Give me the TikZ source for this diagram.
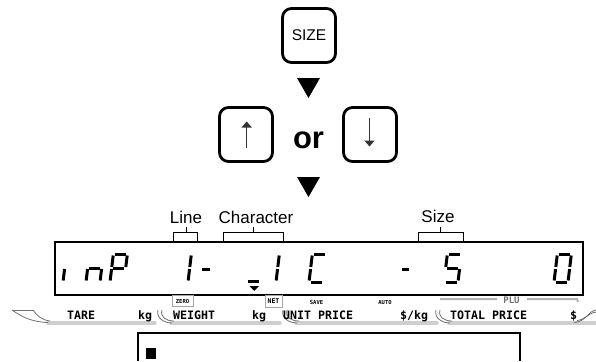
\documentclass[tikz,border=0pt]{standalone}
\usepackage{fontspec}
\setmainfont{Liberation Sans}
\newfontfamily\monofont{DejaVu Sans Mono}
\usetikzlibrary{arrows.meta}
\definecolor{lgray}{HTML}{CFCFCF}
\definecolor{dgray}{HTML}{707070}
\newcommand{\segA}{\draw[seg] (1.5,-28)--(12.5,-28);}
\newcommand{\segB}{\draw[seg] (14,-26.5)--(14,-15);}
\newcommand{\segC}{\draw[seg] (14,-13)--(14,-1.5);}
\newcommand{\segD}{\draw[seg] (1.5,0)--(12.5,0);}
\newcommand{\segE}{\draw[seg] (0,-13)--(0,-1.5);}
\newcommand{\segF}{\draw[seg] (0,-26.5)--(0,-15);}
\newcommand{\segG}{\draw[seg] (1.5,-14)--(12.5,-14);}
\newcommand{\divcurve}[1]{%
  \draw[curv] (#1,310) .. controls (#1-2,318) and (#1+6,323) .. (#1+14,323);
  \draw[curv] (#1+4,310) .. controls (#1+2,317) and (#1+8,321) .. (#1+16,321);}
\begin{document}
\begin{tikzpicture}[x=1pt,y=-1pt,
  key/.style={draw, line width=2.8pt, rounded corners=9pt, minimum width=53pt, minimum height=54pt, inner sep=0pt},
  seg/.style={line width=3pt},
  lbl/.style={font=\fontsize{17}{20}\selectfont, anchor=base, inner sep=0pt},
  brk/.style={line width=1pt},
  strip/.style={font=\monofont\bfseries\fontsize{11.6}{13}\selectfont, anchor=base west, inner sep=0pt},
  tiny/.style={font=\monofont\bfseries\fontsize{5.5}{6}\selectfont, inner sep=0pt},
  curv/.style={dgray, line width=0.8pt},
  uline/.style={lgray, line width=3.5pt, line cap=round},
  keyarrow/.style={line width=1.4pt, black!80, -{Triangle[length=6pt,width=10pt]}},
  tri/.style={fill=black}]
\useasboundingbox (0,0) rectangle (596,361);
% keys
\node[key] (size) at (309,35.5) {\fontsize{15.5}{18}\selectfont SIZE};
\fill[tri] (297,78) -- (320,78) -- (308.5,98) -- cycle;
\node[key] (up) at (246,134.5) {};
\node[key] (down) at (370,134.5) {};
\node[font=\bfseries\fontsize{31}{34}\selectfont, anchor=base, inner sep=0pt] (or) at (308.5,148) {or};
\coordinate (upb) at (246.7,148);
\coordinate (upt) at (246.7,121.5);
\coordinate (dnt) at (369.5,118);
\coordinate (dnb) at (369.5,146.5);
\draw[keyarrow] (upb) -- (upt);
\draw[keyarrow] (dnt) -- (dnb);
\fill[tri] (297,177) -- (320,177) -- (308.5,197) -- cycle;
% labels above the display
\node[lbl] (line) at (186,223) {Line};
\node[lbl] (char) at (256,223) {Character};
\node[lbl] (sz) at (438,222) {Size};
\draw[brk] (173,242) -- (173,232) -- (197,232) -- (197,242) (186,232) -- (186,227);
\draw[brk] (223,242) -- (223,232) -- (283,232) -- (283,242) (253,232) -- (253,227);
\draw[brk] (418,242) -- (418,232) -- (463,232) -- (463,242) (440,232) -- (440,227);
% display
\node[draw, line width=1.6pt, minimum width=528pt, minimum height=53pt, inner sep=0pt] (disp) at (319,268.5) {};
\begin{scope}[shift={(63,282)}, xslant=0.12] \segE \end{scope}
\begin{scope}[shift={(86,282)}, xslant=0.12] \segC\segE\segG \end{scope}
\begin{scope}[shift={(110,282)}, xslant=0.12] \segA\segB\segE\segF\segG \end{scope}
\begin{scope}[shift={(174,282)}, xslant=0.12] \segB\segC \end{scope}
\draw[seg] (202,269) -- (210,269);
\draw[seg] (248,281) -- (259,281);
\fill (249.5,286) -- (259,286) -- (254.25,291) -- cycle;
\begin{scope}[shift={(262,282)}, xslant=0.12] \segB\segC \end{scope}
\begin{scope}[shift={(309,282)}, xslant=0.12] \segA\segD\segE\segF \end{scope}
\draw[seg] (402,269) -- (409,269);
\begin{scope}[shift={(444,282)}, xslant=0.12] \segA\segF\segG\segC\segD \end{scope}
\begin{scope}[shift={(554,282)}, xslant=0.12] \segA\segB\segC\segD\segE\segF \end{scope}
% indicator strip
\draw[gray!70, line width=0.8pt] (172,295) rectangle (193,306);
\node[tiny] (zero) at (182.5,301) {ZERO};
\draw[gray!70, line width=0.8pt] (265,295) rectangle (282,307);
\node[tiny, font=\monofont\bfseries\fontsize{6.5}{7}\selectfont] (net) at (273.5,301.5) {NET};
\node[tiny] (save) at (316.5,302) {SAVE};
\node[tiny] (auto) at (385,302) {AUTO};
\draw[gray!60, line width=2pt] (440,299) -- (497,299) (527,299) -- (577,299) -- (578,302);
\node[font=\monofont\bfseries\fontsize{9}{10}\selectfont, text=dgray, inner sep=0pt] (plu) at (511.5,300) {PLU};
% underlines and dividers
\draw[uline] (48,323) -- (155,323);
\draw[uline] (171,323) -- (280,323);
\draw[uline] (296,323) -- (437,323);
\draw[uline] (449,323) -- (596,323);
\draw[curv] (12,310) -- (33,310);
\draw[curv] (12,310) .. controls (22,317) and (32,322) .. (48,322.5);
\draw[curv] (33,310) .. controls (37,316) and (42,320) .. (50,321);
\divcurve{158}
\divcurve{283}
\divcurve{436}
\draw[curv] (574,322.5) .. controls (586,322) and (588,311) .. (596,310);
\draw[curv] (577,320.5) .. controls (585,320) and (588,313) .. (596,312);
\node[strip] (tare) at (67,319) {TARE};
\node[strip] (kg1) at (138,319) {kg};
\node[strip] (weight) at (173,319) {WEIGHT};
\node[strip] (kg2) at (252,319) {kg};
\node[strip] (unit) at (283,319) {UNIT PRICE};
\node[strip] (kg3) at (400,319) {\$/kg};
\node[strip] (total) at (450,319) {TOTAL PRICE};
\node[strip] (dol) at (570,319) {\$};
% bottom box
\draw[line width=1.5pt] (138,361) -- (138,333) -- (520,333) -- (520,361);
\fill (146,348) rectangle (156,359);
\end{tikzpicture}
\end{document}
